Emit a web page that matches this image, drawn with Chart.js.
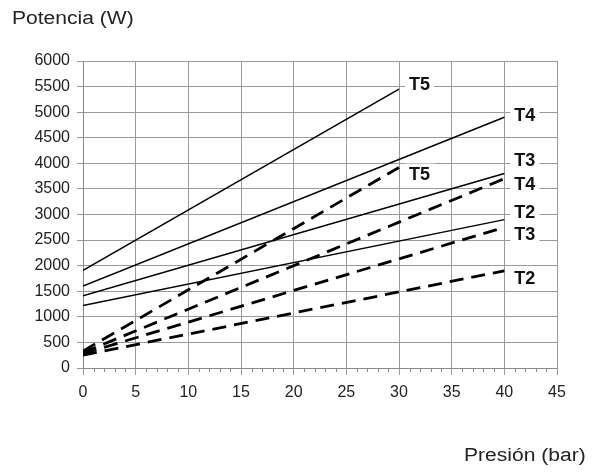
<!DOCTYPE html>
<html>
<head>
<meta charset="utf-8">
<script src="https://cdn.jsdelivr.net/npm/chart.js@4"></script>
<style>
  html, body { margin: 0; padding: 0; background: #fff; }
  #wrap { position: relative; width: 595px; height: 472px; }
  .axis-title { position: absolute; font-family: Arial, "Liberation Sans", sans-serif; font-size: 18px; color: #222; white-space: nowrap; transform: scaleX(1.17); transform-origin: left top; }
</style>
</head>
<body>
<div id="wrap">
  <canvas id="chart" width="595" height="472"></canvas>
  <div class="axis-title" style="left:12px; top:8px;">Potencia (W)</div>
  <div class="axis-title" style="left:464px; top:445px;">Presión (bar)</div>
</div>
<script>
// pressure (bar) at start / end of each curve
const pressure40 = [0, 40];
const pressure30 = [0, 30];

// power (W), solid curves
const solidT2 = [1220, 2900];
const solidT3 = [1410, 3800];
const solidT4 = [1600, 4900];
const solidT5 = [1910, 5450];

// power (W), dashed curves
const dashT2 = [250, 1900];
const dashT3 = [280, 2750];
const dashT4 = [300, 3700];
const dashT5 = [330, 3920];

// curve labels: text and the power level the label sits at
const labelText = ['T5', 'T4', 'T3', 'T2', 'T5', 'T4', 'T3', 'T2'];
const labelPower = [5550, 4950, 4060, 3050, 3800, 3600, 2610, 1760];

const xTicks = [0, 5, 10, 15, 20, 25, 30, 35, 40, 45];
const yTicks = [0, 500, 1000, 1500, 2000, 2500, 3000, 3500, 4000, 4500, 5000, 5500, 6000];

function pts(xs, ys) {
    return xs.map((x, i) => ({ x: x, y: ys[i] }));
}

function line(xs, ys, dashed) {
    return {
        data: pts(xs, ys),
        borderColor: '#000',
        borderWidth: dashed ? 2.8 : 1.5,
        borderDash: dashed ? [14, 8] : [],
        pointRadius: 0,
        fill: false,
        tension: 0
    };
}

const datasets = [
    line(pressure30, solidT5, false),
    line(pressure40, solidT4, false),
    line(pressure40, solidT3, false),
    line(pressure40, solidT2, false),
    line(pressure30, dashT5, true),
    line(pressure40, dashT4, true),
    line(pressure40, dashT3, true),
    line(pressure40, dashT2, true)
];

const tickFont = { family: 'Arial, "Liberation Sans", sans-serif', size: 16 };

const extras = {
    id: 'extras',
    afterDatasetsDraw(chart) {
        const ctx = chart.ctx;
        const xs = chart.scales.x;
        const ys = chart.scales.y;
        const area = chart.chartArea;

        // minor ticks under the x axis
        ctx.save();
        ctx.strokeStyle = '#888';
        ctx.lineWidth = 1;
        ctx.beginPath();
        for (let v = 0; v <= 45; v++) {
            if (v % 5 === 0) continue;
            const px = Math.round(xs.getPixelForValue(v)) + 0.5;
            ctx.moveTo(px, area.bottom);
            ctx.lineTo(px, area.bottom + 4);
        }
        ctx.stroke();

        // curve labels at the end of each line
        ctx.font = 'bold 18px Arial, "Liberation Sans", sans-serif';
        ctx.textBaseline = 'middle';
        ctx.textAlign = 'left';
        datasets.forEach((ds, i) => {
            const last = ds.data[ds.data.length - 1];
            const px = xs.getPixelForValue(last.x) + 10;
            const py = ys.getPixelForValue(labelPower[i]);
            const w = ctx.measureText(labelText[i]).width;
            ctx.fillStyle = '#fff';
            ctx.fillRect(px - 4, py - 10, w + 8, 20);
            ctx.fillStyle = '#111';
            ctx.fillText(labelText[i], px, py + 1);
        });
        ctx.restore();
    }
};

new Chart(document.getElementById('chart'), {
    type: 'line',
    data: { datasets: datasets },
    options: {
        responsive: false,
        animation: false,
        layout: { padding: { left: 0, right: 38, top: 61, bottom: 0 } },
        plugins: { legend: { display: false }, tooltip: { enabled: false } },
        scales: {
            x: {
                type: 'linear',
                min: 0,
                max: 45,
                afterBuildTicks: (s) => { s.ticks = xTicks.map(v => ({ value: v })); },
                afterFit: (s) => { s.height = 104; },
                ticks: { color: '#222', font: tickFont, padding: 8, maxRotation: 0 },
                grid: { color: '#9a9a9a', lineWidth: 1, tickLength: 7 },
                border: { color: '#8a8a8a' }
            },
            y: {
                type: 'linear',
                min: 0,
                max: 6000,
                afterBuildTicks: (s) => { s.ticks = yTicks.map(v => ({ value: v })); },
                afterFit: (s) => { s.width = 83; },
                ticks: { color: '#222', font: tickFont, padding: 7, callback: (v) => String(v) },
                grid: { color: '#9a9a9a', lineWidth: 1, tickLength: 6 },
                border: { color: '#8a8a8a' }
            }
        }
    },
    plugins: [extras]
});
</script>
</body>
</html>
